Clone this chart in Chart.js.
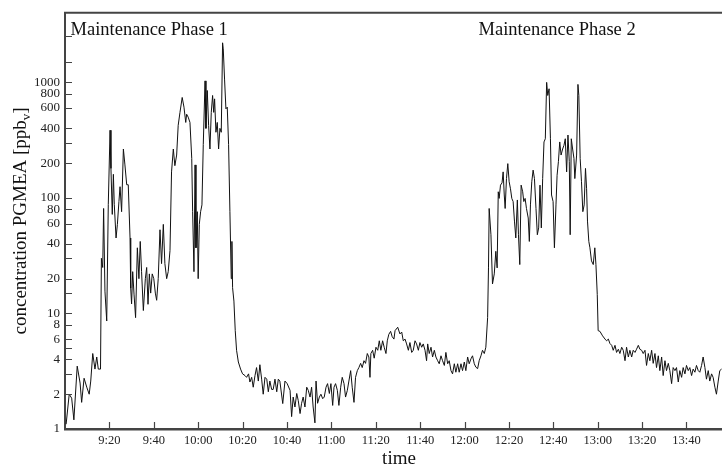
<!DOCTYPE html>
<html>
<head>
<meta charset="utf-8">
<script src="https://cdn.jsdelivr.net/npm/chart.js@4"></script>
<style>
  html, body { margin: 0; padding: 0; background: #fff; }
  #wrap { width: 722px; height: 468px; }
</style>
</head>
<body>
<div id="wrap"><canvas id="chart" width="722" height="468"></canvas></div>
<script>
// minutes after 9:00
const times = [
  0.5, 1.9, 3.0, 4.0, 5.5, 6.8, 7.5, 8.6, 9.8, 10.9, 11.6, 12.5, 13.5, 14.3, 15.0, 16.0,
  16.4, 17.0, 17.4, 18.0, 18.8, 19.5, 20.3, 20.7, 21.3, 21.8, 22.2, 23.0, 23.6, 24.3, 24.8, 25.5,
  26.3, 27.0, 27.8, 28.5, 29.3, 29.6, 30.0, 30.5, 31.1, 31.8, 32.6, 33.3, 33.9, 34.5, 35.3, 36.2,
  36.8, 37.4, 38.0, 38.6, 39.3, 40.0, 40.7, 41.3, 42.0, 42.8, 43.5, 44.3, 45.0, 45.8, 46.5, 47.3,
  48.0, 48.8, 49.5, 50.3, 51.0, 51.8, 52.8, 53.6, 54.4, 54.8, 55.5, 56.3, 57.1, 57.5, 58.1, 58.6,
  59.0, 59.6, 60.0, 60.5, 61.1, 61.7, 62.3, 63.1, 63.5, 64.1, 64.7, 65.3, 65.9, 66.5, 67.0, 67.4,
  68.0, 68.6, 69.2, 69.8, 70.4, 71.0, 71.3, 71.9, 72.5, 73.1, 73.7, 74.3, 74.9, 75.2, 75.5, 76.1,
  76.7, 77.3, 78.1, 79.1, 80.0, 81.1, 81.8, 82.7, 83.3, 84.1, 84.8, 85.6, 86.3, 87.1, 87.8, 88.6,
  89.3, 90.1, 90.9, 91.6, 92.3, 93.1, 93.8, 94.6, 95.4, 96.1,
  96.8, 98.1, 99.1, 100.1, 101.4, 102.1, 102.8, 103.6, 104.4, 105.1, 105.9, 106.6, 107.3, 108.1,
  108.9, 109.6, 110.4, 111.1, 111.8, 112.6, 113.1, 113.8, 114.6, 115.3, 116.1, 116.8, 117.6, 118.3,
  119.1, 119.8, 120.6, 121.2, 121.9, 122.7, 123.4, 124.2, 124.9, 125.7, 126.4, 127.2, 127.9, 128.7,
  129.4, 130.2, 130.9, 131.7, 132.4, 133.2, 133.9, 134.7, 135.4, 136.2, 136.9, 137.4, 137.8, 138.6,
  139.3, 140.1, 140.9, 141.6, 142.3, 143.1, 143.8, 144.6, 145.2, 145.9, 146.7, 147.4, 148.2,
  148.7, 149.9, 150.9, 151.7, 152.4, 153.2, 153.9, 154.7, 155.4, 156.2, 156.9, 157.7, 158.4, 159.2,
  159.9, 160.7, 161.4, 162.2, 162.9, 163.4, 164.1, 164.9, 165.6, 166.4, 167.1, 167.9, 168.6, 169.4,
  170.1, 170.9, 171.6, 172.4, 173.1, 173.9, 174.6, 175.4, 176.1, 176.9, 177.6, 178.4, 179.1, 179.9,
  180.6, 181.4, 182.1, 182.9, 183.6, 184.4, 185.1, 185.9, 186.6, 187.4, 188.1, 188.9, 189.6, 190.4,
  190.8, 191.1, 191.9, 192.6, 193.4, 194.1, 194.7, 195.2, 195.6, 196.2, 196.9, 197.4, 197.9, 198.3,
  198.9, 199.5, 200.1, 200.7, 201.3, 201.9, 202.5, 203.1, 203.8, 204.3, 204.9, 205.5, 206.2, 206.7,
  207.3, 207.9, 208.7, 209.2, 209.7, 210.3, 210.9, 211.5, 212.2, 212.8, 213.4, 214.0, 214.6, 215.2,
  215.8, 216.4, 217.0, 217.5, 218.1, 218.7, 219.2, 219.9, 220.5, 221.2, 221.7, 222.3, 222.9, 223.5,
  224.2, 224.8, 225.4, 226.0, 226.6, 227.2, 227.6, 228.1, 228.7, 229.3, 229.7, 230.5, 231.1, 231.5,
  232.1, 232.7, 233.3, 233.9, 234.5, 235.0, 235.4, 236.0, 236.5, 237.2, 238.0, 238.7, 239.2, 239.8,
  240.2, 241.0, 242.2, 243.3, 244.0, 244.8, 245.5, 246.3, 247.0, 247.8, 248.5, 249.3, 250.0, 250.8,
  251.5, 252.3, 253.0, 253.8, 254.5, 255.3, 256.0, 256.8, 257.5, 258.3, 259.0, 259.8, 260.5, 261.3,
  262.0, 262.8, 263.5, 264.3, 265.0, 265.8, 266.5, 267.3, 268.0, 268.8, 269.5, 270.3, 271.0, 271.8,
  272.5, 273.3, 274.0, 274.8, 275.5, 276.3, 277.0, 277.8, 278.5, 279.3, 280.0, 280.8, 281.5, 282.3,
  283.0, 283.8, 284.5, 285.3, 286.0, 286.8, 287.5, 288.3, 289.0, 289.8, 290.5, 291.3, 292.0, 292.8,
  293.5, 294.3, 295.0, 295.8
];

// PGMEA concentration, ppbv
const concentration = [
  1.1, 2.0, 1.85, 1.2, 3.5, 2.5, 1.7, 2.75, 2.3, 2.0, 2.6, 4.5, 3.3, 4.2, 3.3, 3.3,
  30, 25, 81, 15.6, 8.6, 88, 385, 180, 72, 160, 88, 45, 59, 93, 125, 76,
  265, 193, 130, 130, 45, 16.6, 12.1, 23, 14.7, 9.2, 37, 20, 42, 23, 10.6, 20,
  25, 12, 22, 15, 22, 20, 15, 13, 20, 53, 27, 59, 27, 20, 23, 35,
  168, 265, 190, 235, 425, 550, 740, 610, 450, 530, 500, 450, 220, 76, 23, 193,
  37, 76, 20, 59, 76, 87, 290, 1030, 400, 850, 425, 265, 550, 770, 550, 720,
  370, 450, 265, 400, 370, 2200, 1950, 1050, 590, 610, 290, 76, 20, 42, 16.7, 12.8,
  7.1, 4.8, 3.8, 3.3, 3.0, 2.9, 2.8, 3.0, 2.55, 2.8, 2.3, 2.9, 3.4, 2.6, 3.6, 2.7,
  2.0, 2.8, 2.7, 2.1, 2.6, 2.2, 2.2, 2.7, 2.1, 2.7,
  2.6, 1.66, 2.6, 2.47, 2.16, 1.28, 1.89, 1.55, 2.03, 1.76, 1.36, 1.67, 1.89, 1.55,
  2.3, 2.16, 1.89, 2.3, 1.55, 1.13, 2.6, 1.67, 1.89, 2.0, 1.83, 1.89, 2.3, 2.47,
  2.03, 2.47, 1.6, 2.3, 2.47, 2.16, 1.6, 2.3, 2.8, 2.47, 1.89, 2.16, 2.6, 3.2,
  2.3, 1.7, 2.8, 3.2, 3.4, 3.7, 3.4, 3.9, 3.7, 4.5, 4.2, 2.8, 4.5, 4.8,
  4.1, 5.1, 4.8, 5.8, 4.8, 5.8, 5.1, 4.5, 5.8, 6.6, 7.0, 6.3, 6.0,
  7.1, 7.6, 6.65, 6.9, 5.8, 6.0, 5.45, 4.8, 5.6, 4.6, 4.8, 5.8, 5.45, 4.8,
  5.6, 5.1, 5.45, 4.8, 3.9, 5.45, 4.5, 5.1, 4.2, 4.8, 4.2, 3.9, 3.67, 4.3,
  3.9, 3.55, 4.6, 3.67, 3.9, 3.2, 3.0, 3.67, 3.1, 3.67, 3.1, 3.67, 3.2, 3.8,
  3.2, 4.2, 3.67, 4.05, 4.3, 3.67, 3.43, 3.33, 3.9, 4.3, 4.8, 4.5, 5.1, 9.2,
  24.8, 81, 48, 18, 22, 34.5, 24.8, 113, 99, 129, 135, 168, 106, 81,
  147, 198, 138, 120, 99, 93, 63, 45, 96, 48, 26.5, 129, 113, 93,
  99, 81, 67, 42, 87, 138, 174, 147, 81, 48, 55, 129, 55, 147,
  305, 325, 1000, 770, 880, 325, 106, 93, 37, 87, 157, 206, 305, 235,
  265, 285, 325, 168, 350, 206, 48, 325, 265, 220, 147, 235, 960, 770,
  220, 138, 76, 87, 180, 120, 63, 42, 37, 28.5, 26.5, 37, 26.5, 14.6,
  7.1, 7.0, 6.4, 6.0, 5.8, 6.0, 5.5, 5.3, 4.8, 5.3, 4.6, 4.9, 4.5, 5.1,
  4.8, 3.9, 5.1, 4.2, 4.8, 4.2, 4.8, 4.6, 4.9, 5.3, 4.9, 4.8, 4.5, 4.8,
  3.55, 4.5, 3.9, 4.8, 3.7, 4.5, 3.4, 4.3, 3.2, 4.2, 2.9, 3.9, 3.2, 3.7,
  3.2, 2.47, 3.4, 3.2, 3.4, 2.55, 3.2, 2.8, 3.4, 3.0, 3.55, 3.2, 3.4, 2.9,
  3.3, 3.1, 3.55, 3.2, 3.1, 3.55, 4.2, 3.4, 2.7, 3.2, 2.6, 3.0, 2.8, 2.3,
  2.0, 2.6, 3.2, 3.3
];

const xTicks = [20, 40, 60, 80, 100, 120, 140, 160, 180, 200, 220, 240, 260, 280];
const yTicks = [1, 2, 3, 4, 5, 6, 8, 10, 15, 20, 30, 40, 60, 80, 100, 200, 300, 400, 600, 800, 1000, 1500, 2500];
const yLabels = [1, 2, 4, 6, 8, 10, 20, 40, 60, 80, 100, 200, 400, 600, 800, 1000];
const phases = [
  { label: 'Maintenance Phase 1', at: 2.5 },
  { label: 'Maintenance Phase 2', at: 186.3 }
];

const serif = "'Liberation Serif', 'Times New Roman', serif";

function timeLabel(m) {
  const h = 9 + Math.floor(m / 60);
  const mm = m % 60;
  return h + ':' + (mm < 10 ? '0' : '') + mm;
}

const framePlugin = {
  id: 'frame',
  afterDraw(chart) {
    const { ctx, chartArea: a, scales: { x, y } } = chart;
    ctx.save();

    // top frame line
    ctx.strokeStyle = '#444';
    ctx.lineWidth = 2;
    ctx.beginPath();
    ctx.moveTo(a.left - 1, a.top);
    ctx.lineTo(a.right, a.top);
    ctx.stroke();

    // inward tick marks
    ctx.lineWidth = 1.2;
    ctx.beginPath();
    yTicks.forEach(v => {
      const py = Math.round(y.getPixelForValue(v)) + 0.5;
      ctx.moveTo(a.left, py);
      ctx.lineTo(a.left + 7, py);
    });
    xTicks.forEach(v => {
      const px = Math.round(x.getPixelForValue(v)) + 0.5;
      ctx.moveTo(px, a.bottom);
      ctx.lineTo(px, a.bottom - 7);
    });
    ctx.stroke();

    ctx.fillStyle = '#111';
    ctx.textBaseline = 'alphabetic';

    // phase labels
    ctx.font = '18.5px ' + serif;
    ctx.textAlign = 'left';
    phases.forEach(p => ctx.fillText(p.label, x.getPixelForValue(p.at), 35));

    // x title
    ctx.font = '19px ' + serif;
    ctx.textAlign = 'center';
    ctx.fillText('time', 399, 464);

    // y title with subscript v
    const main = 'concentration PGMEA [ppb', sub = 'v', end = ']';
    ctx.font = '19px ' + serif;
    const w1 = ctx.measureText(main).width, w3 = ctx.measureText(end).width;
    ctx.font = '13px ' + serif;
    const w2 = ctx.measureText(sub).width;
    ctx.translate(26, (a.top + a.bottom) / 2);
    ctx.rotate(-Math.PI / 2);
    ctx.textAlign = 'left';
    let cx = -(w1 + w2 + w3) / 2;
    ctx.font = '19px ' + serif;
    ctx.fillText(main, cx, 0); cx += w1;
    ctx.font = '13px ' + serif;
    ctx.fillText(sub, cx, 4); cx += w2;
    ctx.font = '19px ' + serif;
    ctx.fillText(end, cx, 0);

    ctx.restore();
  }
};

new Chart(document.getElementById('chart').getContext('2d'), {
  type: 'line',
  data: {
    datasets: [{
      data: times.map((t, i) => ({ x: t, y: concentration[i] })),
      borderColor: '#111',
      borderWidth: 1,
      pointRadius: 0,
      tension: 0,
      fill: false
    }]
  },
  options: {
    responsive: false,
    devicePixelRatio: 1,
    animation: false,
    layout: { padding: { top: 11, right: 0, left: 0, bottom: 0 } },
    plugins: {
      legend: { display: false },
      tooltip: { enabled: false }
    },
    scales: {
      x: {
        type: 'linear',
        min: 0,
        max: 296,
        afterBuildTicks: s => { s.ticks = xTicks.map(v => ({ value: v })); },
        afterFit: s => { s.height = 39; },
        grid: { display: false, drawTicks: false },
        border: { display: true, color: '#444', width: 2.5 },
        ticks: {
          autoSkip: false,
          maxRotation: 0,
          padding: 4,
          color: '#222',
          font: { family: serif, size: 12.5 },
          callback: v => timeLabel(v)
        }
      },
      y: {
        type: 'logarithmic',
        min: 1,
        max: 4000,
        afterBuildTicks: s => { s.ticks = yTicks.map(v => ({ value: v })); },
        afterFit: s => { s.width = 65; },
        grid: { display: false, drawTicks: false },
        border: { display: true, color: '#444', width: 2 },
        ticks: {
          autoSkip: false,
          padding: 5,
          color: '#222',
          font: { family: serif, size: 13 },
          callback: v => yLabels.includes(v) ? String(v) : ''
        }
      }
    }
  },
  plugins: [framePlugin]
});
</script>
</body>
</html>
